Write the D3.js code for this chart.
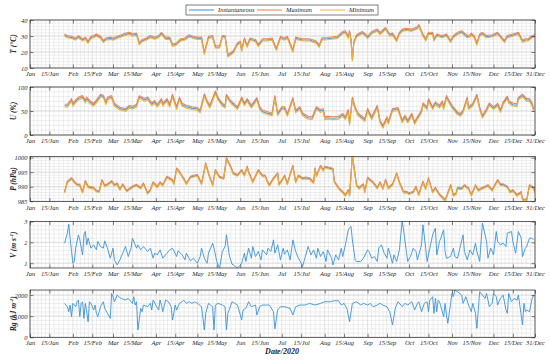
<!DOCTYPE html>
<html>
<head>
<meta charset="utf-8">
<script src="https://cdn.jsdelivr.net/npm/d3@7"></script>
<style>
  body { margin: 0; background: #fff; }
  svg { display: block; }
  text { font-family: "Liberation Serif", "Times New Roman", serif; font-style: italic; fill: #262626; }
</style>
</head>
<body>
<svg id="chart" width="550" height="360"></svg>
<script>
// data, x = day of year 2020 (0 = 1 Jan)
const months = ["Jan","Feb","Mar","Apr","May","Jun","Jul","Aug","Sep","Oct","Nov","Dec"];
const seriesNames = ["Instantaneous", "Maximum", "Minimum"];

// temperature (°C)
const tDays = [25,27,30,33,35,38,40,42,44,46,48,51,53,55,58,60,63,66,69,72,74,77,79,81,84,87,90,93,95,98,101,103,106,109,112,115,118,121,124,126,129,132,134,137,139,141,143,147,150,152,153,155,157,159,163,165,168,171,175,178,181,184,186,190,192,197,202,207,209,211,215,222,226,228,230,231,232,233,234,236,240,242,244,247,251,253,257,260,262,265,267,269,272,276,280,281,284,286,288,291,292,294,298,301,304,306,309,312,316,318,319,321,323,325,327,330,334,338,340,343,345,349,353,356,358,360,363,365];
const tInst = [30.5,29.5,29,28,29.5,27.5,28.5,26,29,29.5,30.5,29,26.5,28,28.5,28,29,30,31,31.5,30.5,31,25,27,28,29.5,28.5,29.5,31.5,28.5,28.5,24,25,27.5,28,30,29,28.5,28.5,19,29,29.5,23,23,29.5,29.5,17.5,20,25,26,21,28,23.5,28,27,24,27.5,27.5,28,21.5,29,28,29,20.5,28.5,27.5,27.5,26,23.5,28,28.3,29,32,32.5,29,32.5,27.5,15,25.5,30,32,31,29,32,33.5,31.5,34.5,30.5,31,27,31.5,33.5,34,33.5,35,36.5,30.5,27.5,31.5,31.5,27.5,30.5,29.5,30.5,26.5,29.5,31.5,32.5,29.5,30,31,29.5,25,30.5,31.5,29.5,30,31.5,29.5,26.5,29.5,30.5,31.5,26.5,27.5,27.5,29.5,30];
const tMax = [31.2,30.3,29.8,28.7,30.2,28.3,29.2,26.8,29.8,30.3,31.3,29.8,27.3,28.8,29.3,28.8,29.8,30.8,31.9,32.3,31.4,31.8,25.9,27.8,28.8,30.3,29.3,30.3,32.3,29.3,29.3,24.9,25.8,28.3,28.8,30.8,29.8,29.3,29.4,19.9,29.8,30.3,23.9,23.8,30.3,30.3,18.4,20.8,25.8,26.8,21.9,28.8,24.3,28.8,27.8,24.8,28.3,28.3,28.8,22.3,29.8,28.8,29.8,21.4,29.3,28.3,28.3,26.8,24.3,28.8,29.1,29.8,32.8,33.3,29.8,33.3,28.3,15.9,26.3,30.8,32.8,31.8,29.8,32.8,34.3,32.3,35.3,31.3,31.8,27.8,32.3,34.3,34.8,34.3,35.8,37.2,31.3,28.3,32.3,32.3,28.3,31.3,30.3,31.3,27.3,30.3,32.3,33.3,30.3,30.8,31.8,30.3,25.8,31.3,32.3,30.3,30.8,32.3,30.3,27.3,30.3,31.3,32.3,27.3,28.3,28.3,30.3,30.8];
const tMin = [29.9,28.9,28.4,27.4,28.9,26.9,27.9,25.4,28.4,28.9,29.9,28.4,25.9,27.4,27.9,27.4,28.4,29.4,30.4,30.9,29.9,30.4,24.4,26.4,27.4,28.9,27.9,28.9,30.9,27.9,27.9,23.4,24.4,26.9,27.4,29.4,28.4,27.9,27.9,18.4,28.4,28.9,22.4,22.4,28.9,28.9,16.9,19.4,24.4,25.4,20.4,27.4,22.9,27.4,26.4,23.4,26.9,26.9,27.4,20.9,28.4,27.4,28.4,19.9,27.9,26.9,26.9,25.4,22.9,27.4,27.7,28.4,31.4,31.9,28.4,31.9,26.9,14.4,24.9,29.4,31.4,30.4,28.4,31.4,32.9,30.9,33.9,29.9,30.4,26.4,30.9,32.9,33.4,32.9,34.4,35.9,29.9,26.9,30.9,30.9,26.9,29.9,28.9,29.9,25.9,28.9,30.9,31.9,28.9,29.4,30.4,28.9,24.4,29.9,30.9,28.9,29.4,30.9,28.9,25.9,28.9,29.9,30.9,25.9,26.9,26.9,28.9,29.4];

// relative humidity (%)
const uDays = [25,27,30,31,33,35,38,40,41,43,46,48,51,53,55,56,59,61,65,69,72,74,77,79,81,83,85,88,90,92,95,96,99,101,103,106,108,110,113,117,121,123,126,128,130,134,136,139,141,142,145,147,150,153,155,157,160,164,166,168,172,175,177,179,182,184,186,190,192,195,197,201,204,206,207,210,212,213,215,219,223,226,228,230,231,233,235,237,240,242,244,247,251,253,255,258,259,262,266,269,271,273,276,278,280,283,284,287,288,291,293,296,298,299,301,303,305,309,311,313,316,317,320,323,325,327,330,332,335,338,340,342,345,346,349,352,353,356,359,361,363,364];
const uInst = [61,61,73,63,70,76,79,70,76,69,63,70,82,80,66,76,79,63,55,52,59,57,61,79,76,73,76,64,69,61,73,63,73,61,82,56,76,63,59,56,54,49,83,69,59,89,75,63,59,82,69,64,56,76,64,73,59,75,56,49,45,43,79,43,56,56,42,75,49,56,43,36,35,49,56,50,52,35,36,35,36,42,35,50,23,76,56,43,36,31,52,35,59,28,17,35,25,52,54,28,38,28,42,25,35,49,64,56,73,56,66,59,68,56,79,69,59,45,42,49,76,56,63,82,56,38,52,64,56,63,50,66,78,69,63,62,76,82,73,73,63,52];
const uMax = [64,64,76,66,73,79,82,73,79,72,66,73,85,83,69,79,82,66,58,55,62,60,64,82,79,76,79,67,72,64,76,66,76,64,85,59,79,66,62,59,57,52,86,72,62,92,78,66,62,85,72,67,59,79,67,76,62,78,59,52,48,46,82,46,59,59,45,78,52,59,46,39,38,52,59,53,55,38,39,38,39,45,38,53,26,79,59,46,39,34,55,38,62,31,20,38,28,55,57,31,41,31,45,28,38,52,67,59,76,59,69,62,71,59,82,72,62,48,45,52,79,59,66,85,59,41,55,67,59,66,53,69,81,72,66,65,79,85,76,76,66,55];
const uMin = [58,58,70,60,67,73,76,67,73,66,60,67,79,77,63,73,76,60,52,49,56,54,58,76,73,70,73,61,66,58,70,60,70,58,79,53,73,60,56,53,51,46,80,66,56,86,72,60,56,79,66,61,53,73,61,70,56,72,53,46,42,40,76,40,53,53,39,72,46,53,40,33,32,46,53,47,49,32,33,32,33,39,32,47,20,73,53,40,33,28,49,32,56,25,14,32,22,49,51,25,35,25,39,22,32,46,61,53,70,53,63,56,65,53,76,66,56,42,39,46,73,53,60,79,53,35,49,61,53,60,47,63,75,66,60,59,73,79,70,70,60,49];

// pressure (hPa)
const pDays = [25,27,30,32,34,36,38,40,42,46,48,50,52,54,56,59,61,63,65,67,70,74,77,80,82,85,87,89,92,94,96,99,103,104,106,108,111,113,116,119,121,124,127,129,132,134,137,140,142,145,147,150,153,155,157,158,161,165,168,170,172,173,176,179,180,183,184,186,190,192,194,197,199,202,205,206,207,210,212,213,216,219,220,223,226,228,230,231,233,234,236,238,241,242,244,246,248,251,253,255,257,259,262,265,267,270,272,274,277,279,281,284,286,288,291,293,296,300,301,304,306,308,309,312,314,317,319,322,324,327,329,331,334,338,340,342,345,347,349,352,355,356,359,361,364,365];
const pInst = [988.1,991.6,992.8,991.6,990.7,990.5,988.1,991.8,989.9,989.5,988.5,988.3,992.2,990.3,990.7,991.8,990.5,991,989,990.7,988.5,989.9,990.5,989.5,991,987.7,988.8,991.4,989.9,991.4,990.5,993.3,992.2,991,996.2,995,992.8,991,993.3,993.7,993.9,991,997.9,994.5,990.5,995.6,993.3,992.8,999.7,996.8,994.5,993.9,995.6,993.9,996.8,995,991.6,995.6,993.7,993.7,991.2,990.5,992.8,994.5,990.7,992.8,993.7,991,997.1,991.6,993.7,992.8,993,992.8,991.4,996.2,993.7,997.1,995.6,996.8,996.4,996,991.6,989.5,988.1,987,988.7,987,1000.8,997.3,990.4,989.5,990.7,988.1,993,992.2,991.4,989.5,991.4,989.3,992.2,989.5,990.7,994.5,991.4,988.1,988.1,987.6,988.1,989.9,987.2,991.6,989.3,992.8,988.1,989.5,987.2,985.3,986.4,990.4,987,987.6,989.5,989.3,990.4,989.3,987,990.4,988.7,989.5,989.9,990.4,988.7,992.2,990.7,990.7,989.9,988.1,988.7,987,988.1,985.6,985.3,990.4,989.5,988.1];
const pMax = [988.4,991.9,993.1,991.9,991.0,990.8,988.4,992.1,990.2,989.8,988.8,988.6,992.5,990.6,991.0,992.1,990.8,991.3,989.3,991.0,988.8,990.2,990.8,989.8,991.3,988.0,989.1,991.7,990.2,991.7,990.8,993.6,992.5,991.3,996.5,995.3,993.1,991.3,993.6,994.0,994.2,991.3,998.2,994.8,990.8,995.9,993.6,993.1,1000.0,997.1,994.8,994.2,995.9,994.2,997.1,995.3,991.9,995.9,994.0,994.0,991.5,990.8,993.1,994.8,991.0,993.1,994.0,991.3,997.4,991.9,994.0,993.1,993.3,993.1,991.7,996.5,994.0,997.4,995.9,997.1,996.7,996.3,991.9,989.8,988.4,987.3,989.0,987.3,1001.1,997.6,990.7,989.8,991.0,988.4,993.3,992.5,991.7,989.8,991.7,989.6,992.5,989.8,991.0,994.8,991.7,988.4,988.4,987.9,988.4,990.2,987.5,991.9,989.6,993.1,988.4,989.8,987.5,985.6,986.7,990.7,987.3,987.9,989.8,989.6,990.7,989.6,987.3,990.7,989.0,989.8,990.2,990.7,989.0,992.5,991.0,991.0,990.2,988.4,989.0,987.3,988.4,985.9,985.6,990.7,989.8,988.4];
const pMin = [987.8,991.3,992.5,991.3,990.4,990.2,987.8,991.5,989.6,989.2,988.2,988.0,991.9,990.0,990.4,991.5,990.2,990.7,988.7,990.4,988.2,989.6,990.2,989.2,990.7,987.4,988.5,991.1,989.6,991.1,990.2,993.0,991.9,990.7,995.9,994.7,992.5,990.7,993.0,993.4,993.6,990.7,997.6,994.2,990.2,995.3,993.0,992.5,999.4,996.5,994.2,993.6,995.3,993.6,996.5,994.7,991.3,995.3,993.4,993.4,990.9,990.2,992.5,994.2,990.4,992.5,993.4,990.7,996.8,991.3,993.4,992.5,992.7,992.5,991.1,995.9,993.4,996.8,995.3,996.5,996.1,995.7,991.3,989.2,987.8,986.7,988.4,986.7,1000.5,997.0,990.1,989.2,990.4,987.8,992.7,991.9,991.1,989.2,991.1,989.0,991.9,989.2,990.4,994.2,991.1,987.8,987.8,987.3,987.8,989.6,986.9,991.3,989.0,992.5,987.8,989.2,986.9,985.0,986.1,990.1,986.7,987.3,989.2,989.0,990.1,989.0,986.7,990.1,988.4,989.2,989.6,990.1,988.4,991.9,990.4,990.4,989.6,987.8,988.4,986.7,987.8,985.3,985.0,990.1,989.2,987.8];

// wind speed (m/s), [day, value]
const windSpeed = [[25,1.96],[27,2.44],[28,2.87],[29,2.2],[30,1.56],[31,1.0],[32,1.08],[33,1.72],[35,2.36],[36,2.12],[38,1.4],[39,2.36],[40,2.52],[41,1.88],[42,2.2],[44,1.72],[46,1.88],[48,1.64],[49,2.04],[51,1.8],[53,1.72],[54,2.07],[56,1.72],[58,1.24],[60,1.72],[61,1.16],[63,0.92],[65,1.16],[67,1.48],[69,1.8],[71,1.32],[73,1.72],[74,2.2],[77,1.72],[78,1.88],[80,1.64],[82,1.8],[85,1.56],[87,1.72],[89,1.24],[90,1.48],[92,1.4],[94,1.64],[96,1.24],[99,1.48],[101,1.64],[103,1.72],[106,1.32],[107,1.59],[110,1.4],[112,1.16],[113,1.48],[116,1.11],[118,1.24],[121,1.0],[123,1.32],[124,1.72],[126,1.24],[128,1.0],[129,1.48],[132,1.96],[133,1.72],[135,1.08],[137,0.76],[139,1.56],[141,1.8],[142,2.36],[144,1.4],[146,0.95],[147,0.92],[150,0.76],[151,0.84],[153,1.0],[155,1.48],[156,1.08],[158,1.72],[160,1.24],[161,1.8],[163,1.32],[165,1.56],[167,1.16],[168,1.64],[171,1.4],[172,1.72],[174,1.56],[176,2.12],[177,1.48],[179,1.88],[181,1.16],[183,1.72],[184,1.43],[186,1.64],[188,1.16],[190,2.12],[192,1.56],[194,1.24],[196,1.0],[197,0.84],[199,1.32],[201,1.8],[203,1.4],[205,1.64],[207,1.24],[208,1.72],[210,1.32],[212,1.56],[214,1.08],[215,1.64],[218,1.24],[219,0.92],[221,1.4],[223,1.16],[225,1.72],[226,1.32],[228,1.88],[230,2.6],[232,2.76],[233,2.12],[235,1.16],[236,1.08],[239,1.08],[241,1.24],[244,1.64],[245,1.56],[247,1.24],[249,1.32],[251,1.08],[252,1.72],[254,1.88],[256,1.48],[258,1.24],[259,1.72],[262,1.0],[263,1.4],[265,1.08],[267,1.64],[269,3.05],[270,2.6],[272,1.56],[273,1.08],[275,1.32],[277,1.72],[279,1.56],[280,1.16],[283,1.88],[284,2.84],[286,1.72],[287,1.08],[289,1.72],[291,2.36],[293,2.68],[294,1.4],[296,2.04],[299,2.6],[300,1.56],[301,1.24],[304,1.32],[306,1.72],[307,1.32],[309,1.24],[311,1.8],[313,2.36],[314,1.56],[316,1.16],[318,1.64],[320,1.4],[322,1.96],[323,1.56],[325,1.08],[327,2.92],[330,2.04],[331,1.24],[333,1.72],[335,1.4],[337,2.52],[338,2.04],[340,1.88],[342,1.96],[344,1.8],[345,2.44],[348,2.52],[349,2.04],[351,1.48],[353,2.52],[355,2.2],[356,1.32],[358,1.72],[359,1.8],[361,2.2],[363,2.2],[364,2.12]];

// global radiation (kJ m-2), [day, value]
const radiation = [[25,1606],[27,1449],[28,1213],[29,1528],[30,976],[31,1606],[33,1449],[34,1685],[35,1764],[36,976],[37,1606],[38,1685],[39,898],[40,1606],[41,1213],[42,740],[43,1685],[44,1606],[46,1292],[47,1528],[48,1134],[49,976],[50,1213],[51,1449],[53,1685],[54,1370],[56,1134],[58,898],[59,2079],[60,1922],[61,1685],[63,2000],[64,1922],[66,1843],[69,1764],[71,1843],[74,1606],[75,1922],[76,1528],[77,1685],[78,346],[80,1370],[81,1213],[82,1528],[85,1449],[87,1606],[88,1292],[89,1764],[91,1528],[93,1292],[94,1764],[95,1528],[96,1213],[98,1764],[100,1685],[102,1449],[103,819],[105,1528],[106,1292],[108,1606],[110,1685],[111,1764],[113,1606],[115,1685],[117,1606],[119,1685],[121,1606],[124,1449],[126,346],[127,1134],[129,1606],[132,1449],[133,346],[134,1528],[136,1606],[139,1528],[141,1449],[142,346],[143,1134],[146,1685],[148,1606],[150,1528],[153,819],[154,1292],[156,1370],[158,1685],[160,1449],[163,1528],[164,1055],[166,1449],[168,1528],[171,1528],[173,1528],[176,1213],[177,400],[179,1292],[181,1449],[184,1449],[188,1370],[190,1055],[192,1449],[195,1528],[199,1528],[202,1606],[206,1528],[210,1606],[213,1685],[217,1685],[220,1733],[223,1733],[225,1528],[227,1606],[229,1370],[231,740],[233,1606],[236,1685],[239,1528],[241,1606],[244,1528],[246,1606],[248,1449],[251,1528],[253,1606],[255,1528],[258,1449],[260,1213],[262,583],[264,1370],[266,1685],[269,1449],[271,1606],[273,1528],[276,1685],[278,1292],[280,1606],[281,1685],[283,1213],[285,1606],[287,1685],[288,1213],[289,1764],[291,1922],[292,1134],[293,1843],[294,1213],[295,1764],[296,1685],[299,976],[300,1606],[301,1055],[302,661],[304,1606],[305,2079],[306,1922],[307,2237],[309,2158],[312,2000],[313,1606],[315,1922],[317,1528],[319,1213],[320,1606],[322,1134],[323,425],[324,1292],[325,2158],[327,2000],[329,1843],[330,2079],[332,1449],[334,1606],[335,2079],[337,1922],[338,1528],[340,1843],[342,2000],[344,1292],[345,1134],[346,2079],[348,1685],[350,1843],[352,1764],[353,2000],[356,583],[357,1606],[358,1213],[359,1292],[361,1213],[363,1843],[364,2000]];

// ---------------------------------------------------------------
const colInst = "#3a92d8", colMax = "#f07b4f", colMin = "#f0b232";
const svg = d3.select("#chart");
const left = 30, right = 535;
const day = d => new Date(2020, 0, 1 + d);

const x = d3.scaleTime()
    .domain([new Date(2020, 0, 1), new Date(2020, 11, 31)])
    .range([left, right]);

// 1st and 15th of every month, plus 31/Dec
const majorTicks = [];
months.forEach((m, i) => {
    majorTicks.push(new Date(2020, i, 1));
    majorTicks.push(new Date(2020, i, 15));
});
majorTicks.push(new Date(2020, 11, 31));
const fmtTick = d => d.getDate() === 1 ? months[d.getMonth()] : d.getDate() + "/" + months[d.getMonth()];

const minorX = [];
for (let i = 0; i < majorTicks.length - 1; i++) {
    const a = +majorTicks[i], b = +majorTicks[i + 1];
    for (let k = 1; k < 5; k++) minorX.push(new Date(a + (b - a) * k / 5));
}

function stepValues(lo, hi, step) {
    const out = [];
    for (let v = Math.ceil(lo / step - 1e-6) * step; v <= hi + 1e-9; v += step) out.push(+v.toFixed(6));
    return out;
}

const zip = (days, vals) => days.map((d, i) => [d, vals[i]]);

const panels = [
    { top: 20, bottom: 68, domain: [10, 40], ticks: [10, 20, 30, 40], minor: 2,
      title: [["T", 0], [" (°C)", 0]],
      series: [[zip(tDays, tInst), colInst], [zip(tDays, tMax), colMax], [zip(tDays, tMin), colMin]], width: 1.1 },
    { top: 87, bottom: 135, domain: [0, 100], ticks: [0, 50, 100], minor: 10,
      title: [["U", 0], [" (%)", 0]],
      series: [[zip(uDays, uInst), colInst], [zip(uDays, uMax), colMax], [zip(uDays, uMin), colMin]], width: 1.1 },
    { top: 156.5, bottom: 201.5, domain: [984.9, 1000.4], ticks: [985, 990, 995, 1000], minor: 1,
      title: [["P", 0], [" (hPa)", 0]],
      series: [[zip(pDays, pInst), colInst], [zip(pDays, pMax), colMax], [zip(pDays, pMin), colMin]], width: 1.1 },
    { top: 221.5, bottom: 268, domain: [0.77, 3], ticks: [1, 2, 3], minor: 0.2,
      title: [["V", 0], [" (m s", 0], ["-1", 1], [")", 0]],
      series: [[windSpeed, colInst]], width: 0.9 },
    { top: 290, bottom: 337.3, domain: [0, 2240], ticks: [0, 1000, 2000], minor: 200,
      title: [["Rg", 0], [" (kJ m", 0], ["-2", 1], [")", 0]],
      series: [[radiation, colInst]], width: 0.9 }
];

panels.forEach((p, idx) => {
    const y = d3.scaleLinear().domain(p.domain).range([p.bottom, p.top]);
    const g = svg.append("g");

    g.append("clipPath").attr("id", "clip" + idx)
        .append("rect").attr("x", left).attr("y", p.top)
        .attr("width", right - left).attr("height", p.bottom - p.top);

    // minor grid
    g.append("g").selectAll("line").data(minorX).join("line")
        .attr("x1", d => x(d)).attr("x2", d => x(d))
        .attr("y1", p.top).attr("y2", p.bottom)
        .attr("stroke", "#e3e3e3").attr("stroke-width", 0.6);
    g.append("g").selectAll("line").data(stepValues(p.domain[0], p.domain[1], p.minor)).join("line")
        .attr("x1", left).attr("x2", right)
        .attr("y1", d => y(d)).attr("y2", d => y(d))
        .attr("stroke", "#e3e3e3").attr("stroke-width", 0.6);
    // major grid
    g.append("g").selectAll("line").data(majorTicks).join("line")
        .attr("x1", d => x(d)).attr("x2", d => x(d))
        .attr("y1", p.top).attr("y2", p.bottom)
        .attr("stroke", "#d2d2d2").attr("stroke-width", 0.6);
    g.append("g").selectAll("line").data(p.ticks).join("line")
        .attr("x1", left).attr("x2", right)
        .attr("y1", d => y(d)).attr("y2", d => y(d))
        .attr("stroke", "#d2d2d2").attr("stroke-width", 0.6);

    // series
    const line = d3.line()
        .defined(d => d[1] != null)
        .x(d => x(day(d[0])))
        .y(d => y(d[1]));
    const lines = g.append("g").attr("clip-path", `url(#clip${idx})`);
    p.series.forEach(([data, color]) => {
        lines.append("path").datum(data)
            .attr("d", line)
            .attr("fill", "none")
            .attr("stroke", color)
            .attr("stroke-width", p.width)
            .attr("stroke-linejoin", "round")
            .attr("opacity", p.series.length > 1 ? 0.9 : 1);
    });

    // axes, ticks pointing inward
    const styleAxis = sel => {
        sel.select(".domain").remove();
        sel.selectAll(".tick line").attr("stroke", "#262626").attr("stroke-width", 0.6);
        sel.selectAll(".tick text").attr("fill", "#262626")
            .style("font-size", "6.5px").style("font-family", "Liberation Serif, serif").style("font-style", "italic");
    };
    g.append("g").attr("transform", `translate(0,${p.bottom})`)
        .call(d3.axisBottom(x).tickValues(majorTicks).tickFormat(fmtTick).tickSize(-3.5).tickPadding(3.5))
        .call(styleAxis);
    g.append("g").attr("transform", `translate(0,${p.top})`)
        .call(d3.axisTop(x).tickValues(majorTicks).tickFormat("").tickSize(-3.5))
        .call(styleAxis);
    g.append("g").attr("transform", `translate(${left},0)`)
        .call(d3.axisLeft(y).tickValues(p.ticks).tickFormat(d => String(d)).tickSize(-3.5).tickPadding(2.5))
        .call(styleAxis);
    g.append("g").attr("transform", `translate(${right},0)`)
        .call(d3.axisRight(y).tickValues(p.ticks).tickFormat("").tickSize(-3.5))
        .call(styleAxis);

    // frame
    g.append("rect")
        .attr("x", left).attr("y", p.top)
        .attr("width", right - left).attr("height", p.bottom - p.top)
        .attr("fill", "none").attr("stroke", "#262626").attr("stroke-width", 0.7);

    // y title
    const title = g.append("text")
        .attr("transform", `translate(16,${(p.top + p.bottom) / 2}) rotate(-90)`)
        .attr("text-anchor", "middle")
        .style("font-size", "7.5px").style("font-weight", "bold");
    let raised = false;
    p.title.forEach(([t, sup]) => {
        const ts = title.append("tspan").text(t);
        if (sup && !raised) { ts.attr("dy", -2.8).style("font-size", "5px"); raised = true; }
        else if (!sup && raised) { ts.attr("dy", 2.8); raised = false; }
    });
});

// x title
svg.append("text")
    .attr("x", 282).attr("y", 354)
    .attr("text-anchor", "middle")
    .style("font-size", "8px").style("font-weight", "bold")
    .text("Date/2020");

// legend
const legend = svg.append("g");
legend.append("rect")
    .attr("x", 186).attr("y", 5).attr("width", 192).attr("height", 10)
    .attr("fill", "#fff").attr("stroke", "#262626").attr("stroke-width", 0.6);
const legendX = [189, 257, 320];
seriesNames.forEach((name, i) => {
    legend.append("line")
        .attr("x1", legendX[i]).attr("x2", legendX[i] + 25)
        .attr("y1", 10).attr("y2", 10)
        .attr("stroke", [colInst, colMax, colMin][i]).attr("stroke-width", 1);
    legend.append("text")
        .attr("x", legendX[i] + 29).attr("y", 12.3)
        .style("font-size", "6.5px")
        .text(name);
});
</script>
</body>
</html>
